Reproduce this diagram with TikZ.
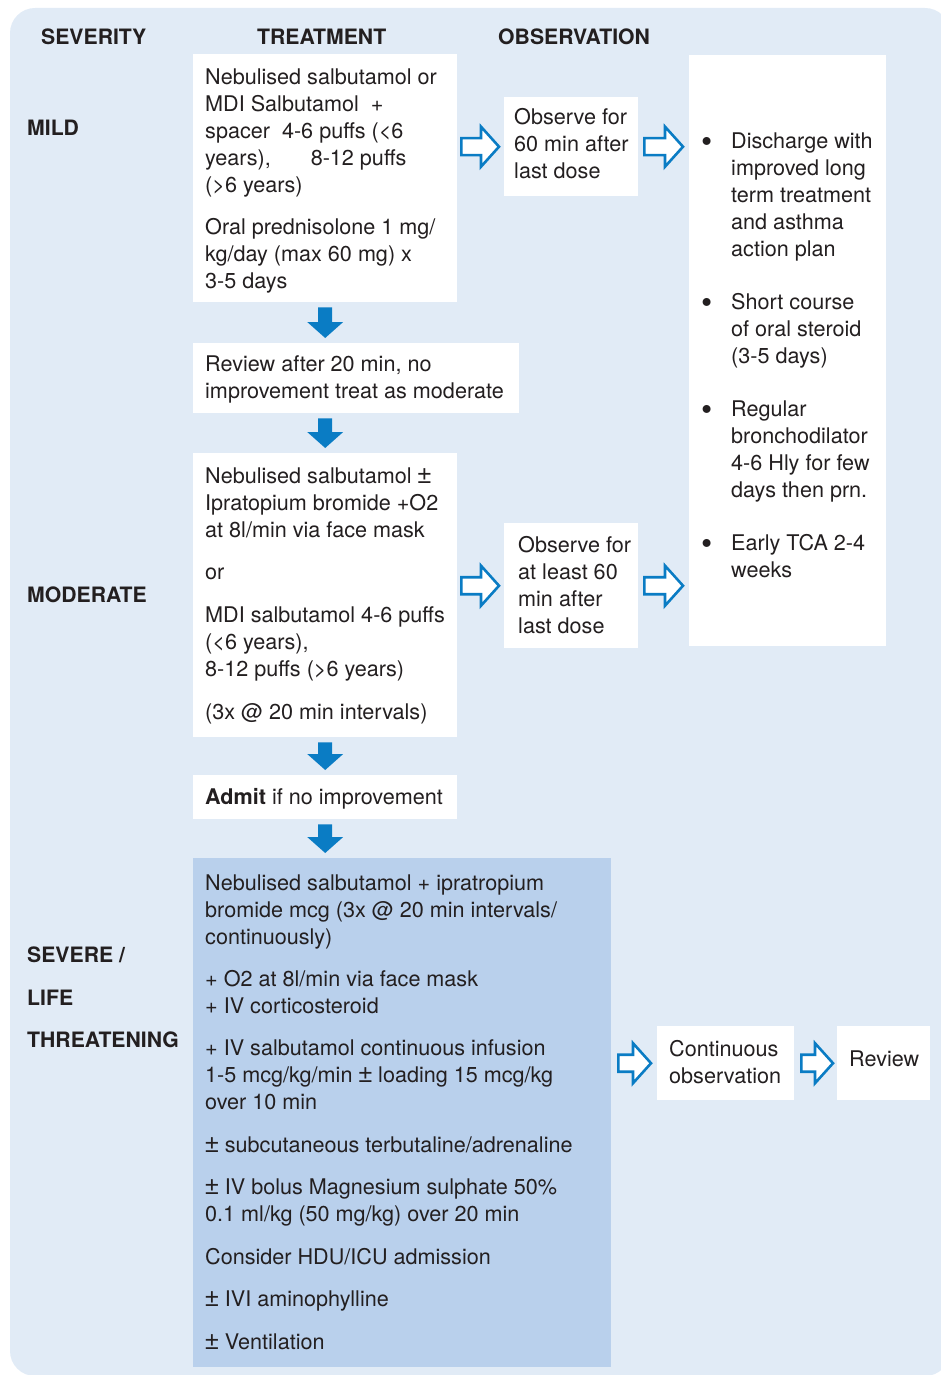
\documentclass[tikz,border=0pt]{standalone}
\usepackage{fontspec}
\setmainfont{TeX Gyre Heros}
\newfontfamily\pmfont{Liberation Sans}
\usetikzlibrary{calc}
\definecolor{bgblue}{HTML}{E1EBF6}
\definecolor{sevblue}{HTML}{B9D0EC}
\definecolor{arrblue}{HTML}{0A7CC4}
\definecolor{txtcol}{HTML}{231F20}
\newcommand{\mypm}{{\pmfont\fontsize{25}{27}\selectfont\symbol{"00B1}}}
\newcommand{\mybul}{\llap{\raisebox{-3.5pt}{\fontsize{32}{27}\selectfont\textbullet}\hspace{19pt}}}
\tikzset{
  wbox/.style={fill=white, draw=none, inner sep=0pt, anchor=north west},
  sbox/.style={fill=sevblue, draw=none, inner sep=0pt, anchor=north west},
  txt/.style={anchor=north west, inner sep=0pt, align=left, text=txtcol,
    font=\fontsize{21.6}{27}\selectfont},
  hdr/.style={anchor=base west, inner sep=0pt, text=txtcol,
    font=\fontsize{21.2}{27}\selectfont\bfseries},
  downarrow/.style={fill=arrblue, draw=none},
  openarrow/.style={fill=white, draw=arrblue, line width=2.6pt, miter limit=10}
}
\newcommand{\mydownarr}[3]{%
  \path[downarrow] let \p1=(#1.south), \p2=(#2.north), \p3=(#3) in
    (\x3-7pt,\y1-5pt) -- (\x3+7pt,\y1-5pt) -- (\x3+7pt,\y2+21pt) --
    (\x3+18pt,\y2+21pt) -- (\x3,\y2+5pt) -- (\x3-18pt,\y2+21pt) --
    (\x3-7pt,\y2+21pt) -- cycle;}
\newcommand{\myrightarr}[5]{%
  \path[openarrow] let \p1=(#1.east), \p2=(#2.west), \p3=(#3) in
    (\x1+#4,\y3+8.5pt) -- (\x2-#5-18pt,\y3+8.5pt) -- (\x2-#5-18pt,\y3+20pt) --
    (\x2-#5,\y3) -- (\x2-#5-18pt,\y3-20pt) -- (\x2-#5-18pt,\y3-8.5pt) --
    (\x1+#4,\y3-8.5pt) -- cycle;}
\begin{document}
\begin{tikzpicture}[x=1pt,y=-1pt]
\useasboundingbox (0,0) rectangle (940,1375);
\fill[bgblue] (950,1376) [rounded corners=25pt] -- (10,1376) -- (10,8) -- (950,8) -- cycle;

% headers
\node[hdr] (hsev) at (41,44.5) {SEVERITY};
\node[hdr] (htreat) at (257,44.5) {TREATMENT};
\node[hdr] (hobs) at (498,44.5) {OBSERVATION};
\node[hdr] (lmild) at (27,135.5) {MILD};
\node[hdr] (lmod) at (27,602.5) {MODERATE};
\node[hdr] (lsev1) at (27,962.5) {SEVERE /};
\node[hdr] (lsev2) at (27,1005) {LIFE};
\node[hdr] (lsev3) at (27,1047) {THREATENING};

% boxes
\node[wbox, minimum width=264pt, minimum height=248pt] (mildtx) at (193,54) {};
\node[wbox, minimum width=134pt, minimum height=99pt] (obsmild) at (504,97) {};
\node[wbox, minimum width=197pt, minimum height=591pt] (obsall) at (689,55) {};
\node[wbox, minimum width=326pt, minimum height=70pt] (review) at (193,343) {};
\node[wbox, minimum width=264pt, minimum height=284pt] (modtx) at (193,453) {};
\node[wbox, minimum width=134pt, minimum height=125pt] (obsmod) at (504,523) {};
\node[wbox, minimum width=264pt, minimum height=44pt] (admit) at (193,775) {};
\node[sbox, minimum width=418pt, minimum height=509pt] (sevtx) at (193,858) {};
\node[wbox, minimum width=137pt, minimum height=74pt] (contobs) at (657,1026) {};
\node[wbox, minimum width=93pt, minimum height=74pt] (review2) at (837,1026) {};

% texts
\node[txt] (tmild) at (205,65.5) {\strut Nebulised salbutamol or\\
MDI Salbutamol\ \ +\\
spacer\ \ 4-6 puffs (<6\\
years),\hspace{40pt}8-12 puffs\\
(>6 years)\\[15pt]
Oral prednisolone 1 mg/\\
kg/day (max 60 mg) x\\
3-5 days};

\node[txt] (tobsmild) at (514,105.5) {\strut Observe for\\60 min after\\last dose};

\node[txt] (tobsall) at (731,129.5) {\strut\mybul Discharge with\\
improved long\\term treatment\\and asthma\\action plan\\[26pt]
\mybul Short course\\of oral steroid\\(3-5 days)\\[26pt]
\mybul Regular\\bronchodilator\\4-6 Hly for few\\days then prn.\\[26pt]
\mybul Early TCA 2-4\\weeks};

\node[txt] (treview) at (205,352.5) {\strut Review after 20 min, no\\improvement treat as moderate};

\node[txt] (tmod) at (205,464.5) {\strut Nebulised salbutamol \mypm\\
Ipratopium bromide +O2\\
at 8l/min via face mask\\[15pt]
or\\[16pt]
MDI salbutamol 4-6 puffs\\
(<6 years),\\
8-12 puffs (>6 years)\\[16pt]
(3x @ 20 min intervals)};

\node[txt] (tobsmod) at (518,533.5) {\strut Observe for\\at least 60\\min after\\last dose};

\node[txt] (tadmit) at (205,785.5) {\strut\textbf{Admit} if no improvement};

\node[txt] (tsev) at (205,871.5) {\strut Nebulised salbutamol + ipratropium\\
bromide mcg (3x @ 20 min intervals/\\
continuously)\\[15pt]
+ O2 at 8l/min via face mask\\
+ IV corticosteroid\\[15pt]
+ IV salbutamol continuous infusion\\
1-5 mcg/kg/min \mypm\ loading 15 mcg/kg\\
over 10 min\\[16pt]
\mypm\ subcutaneous terbutaline/adrenaline\\[15pt]
\mypm\ IV bolus Magnesium sulphate 50\%\\
0.1 ml/kg (50 mg/kg) over 20 min\\[16pt]
Consider HDU/ICU admission\\[15pt]
\mypm\ IVI aminophylline\\[16pt]
\mypm\ Ventilation};

\node[txt] (tcontobs) at (669,1037.5) {\strut Continuous\\observation};
\node[txt] (treview2) at (849,1047.5) {\strut Review};

% down arrows
\mydownarr{mildtx}{review}{mildtx.south}
\mydownarr{review}{modtx}{mildtx.south}
\mydownarr{modtx}{admit}{mildtx.south}
\mydownarr{admit}{sevtx}{mildtx.south}

% right open arrows
\myrightarr{mildtx}{obsmild}{obsmild.west}{4pt}{5pt}
\myrightarr{obsmild}{obsall}{obsmild.east}{6pt}{6pt}
\myrightarr{modtx}{obsmod}{obsmod.west}{4pt}{5pt}
\myrightarr{obsmod}{obsall}{obsmod.east}{6pt}{6pt}
\myrightarr{sevtx}{contobs}{contobs.west}{7pt}{6pt}
\myrightarr{contobs}{review2}{contobs.east}{7pt}{4pt}
\end{tikzpicture}
\end{document}
